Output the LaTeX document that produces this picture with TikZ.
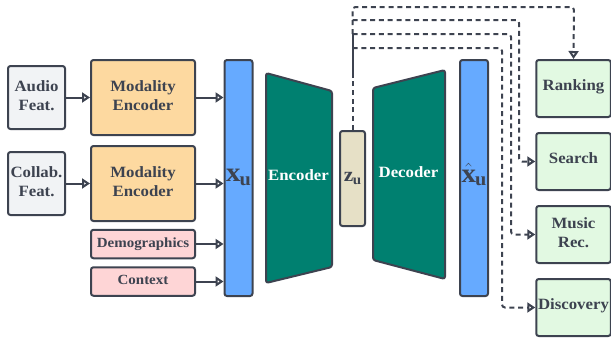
\documentclass[tikz,border=0pt]{standalone}
\usepackage{fontspec}
\setmainfont[FakeStretch=1.07]{Liberation Serif}
\usetikzlibrary{arrows.meta}
\definecolor{ink}{HTML}{3D4350}
\definecolor{greyfill}{HTML}{F1F3F5}
\definecolor{orangefill}{HTML}{FDD9A0}
\definecolor{pinkfill}{HTML}{FED5D6}
\definecolor{bluefill}{HTML}{66AAFF}
\definecolor{tealfill}{HTML}{008070}
\definecolor{beigefill}{HTML}{E6E0C6}
\definecolor{greenfill}{HTML}{E2F9E2}
\tikzset{
  x=1pt,y=-1pt,
  boxbase/.style={draw=ink,line width=2pt,rounded corners=2.5pt,minimum width=#1,inner sep=0pt,align=center,text=ink,text depth=4pt,font=\fontsize{15.7}{19}\selectfont\bfseries},
  feat/.style={boxbase=57pt,fill=greyfill,minimum height=63pt},
  modenc/.style={boxbase=104pt,fill=orangefill,minimum height=75pt},
  extra/.style={boxbase=104pt,fill=pinkfill,minimum height=28.5pt,text depth=3pt,font=\fontsize{14}{16}\selectfont\bfseries},
  latent/.style={boxbase=28pt,fill=bluefill,minimum height=236pt},
  zbox/.style={boxbase=25pt,fill=beigefill,minimum height=95pt},
  task/.style={boxbase=74.5pt,fill=greenfill,minimum height=57pt},
  oneline/.style={text depth=6pt},
  trap/.style={draw=ink,line width=2pt,rounded corners=2.5pt,fill=tealfill},
  traplabel/.style={text=white,font=\fontsize{15.7}{18}\selectfont\bfseries,inner sep=0pt},
  flow/.style={draw=ink,line width=2pt,-{Triangle[open,length=8pt,width=10pt,line width=2pt]}},
  dashflow/.style={draw=ink,line width=2pt,dash pattern=on 5pt off 3.8pt,rounded corners=3pt},
  dashtip/.style={-{Triangle[open,length=8pt,width=10pt,line width=2pt]}},
  stem/.style={draw=ink,line width=2pt},
}
\begin{document}
\begin{tikzpicture}
\useasboundingbox (0,0) rectangle (611,341);
\node[feat] (audio) at (36.5,97.5) {Audio\\Feat.};
\node[feat] (collab) at (36.5,183.5) {Collab.\\Feat.};
\node[modenc] (me1) at (143,97.5) {Modality\\Encoder};
\node[modenc] (me2) at (143,183.5) {Modality\\Encoder};
\node[extra] (demo) at (143,244) {Demographics};
\node[extra] (ctx) at (143,281.5) {Context};
\node[latent] (xu) at (238.5,178) {};
\node[text=ink,inner sep=0pt] (xul) at (238.5,177.5) {\fontsize{27}{28}\selectfont$\mathbf{x}_{\mathbf{u}}$};
\draw[trap] (266,73) -- (332,91) -- (332,267) -- (266,283) -- cycle;
\node[traplabel] (enc) at (298.5,175.5) {Encoder};
\node[zbox] (zu) at (352.5,178.5) {\fontsize{20}{21}\selectfont$\mathbf{z}_{\mathbf{u}}$};
\draw[trap] (373,88) -- (445,70) -- (445,279) -- (373,260) -- cycle;
\node[traplabel] (dec) at (408.5,172) {Decoder};
\node[latent] (xh) at (474,178) {};
\node[text=ink,inner sep=0pt] (xhl) at (474,174.5) {\fontsize{27}{28}\selectfont$\hat{\mathbf{x}}_{\mathbf{u}}$};
\node[task,oneline] (rank) at (573.5,88.5) {Ranking};
\node[task,oneline] (search) at (573.5,161.5) {Search};
\node[task] (music) at (573.5,234.5) {Music\\Rec.};
\node[task,oneline] (disc) at (573.5,307.5) {Discovery};
\draw[flow] (audio) -- (me1);
\draw[flow] (collab) -- (me2);
\draw[flow] (me1.east) -- (me1.east -| xu.west);
\draw[flow] (me2.east) -- (me2.east -| xu.west);
\draw[flow] (demo.east) -- (demo.east -| xu.west);
\draw[flow] (ctx.east) -- (ctx.east -| xu.west);
\coordinate (s1) at (352.5,78);
\coordinate (b4) at (352.5,48);
\coordinate (b3) at (352.5,34);
\coordinate (b2) at (352.5,20);
\coordinate (t1) at (574,7);
\coordinate (c2) at (519,20);
\coordinate (c3) at (511,34);
\coordinate (c4) at (502,48);
\draw[dashflow] (zu.north) -- (s1);
\draw[stem] (s1) -- (b3);
\draw[dashflow,dashtip] (b3) -- (b3 |- t1) -- (t1) -- (rank.north);
\draw[dashflow,dashtip] (b2) -- (c2) |- (search.west);
\draw[dashflow,dashtip] (b3) -- (c3) |- (music.west);
\draw[dashflow,dashtip] (b4) -- (c4) |- (disc.west);
\end{tikzpicture}
\end{document}
